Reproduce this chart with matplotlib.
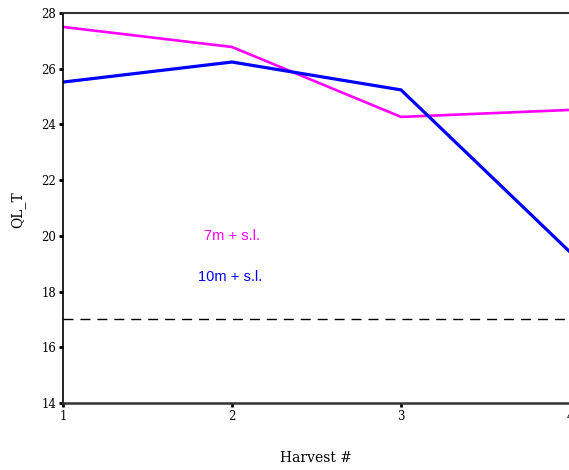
import matplotlib
matplotlib.use("Agg")
import matplotlib.pyplot as plt

harvest = [1, 2, 3, 4]
ql_7m = [27.5, 26.78, 24.27, 24.52]
ql_10m = [25.52, 26.24, 25.24, 19.42]
threshold = 17
xticks = [1, 2, 3, 4]
yticks = [14, 16, 18, 20, 22, 24, 26, 28]

fig = plt.figure(figsize=(5.69, 4.70), dpi=100)
ax = fig.add_axes([63/569, (470-403)/470, (570-63)/569, (403-13)/470])

ax.plot(harvest, ql_7m, color='#ff00ff', lw=1.9, solid_joinstyle='miter')
ax.plot(harvest, ql_10m, color='#0000ff', lw=2.3, solid_joinstyle='miter')
ax.axhline(threshold, color='black', lw=1.0, dashes=(7.2, 5.0))

ax.text(2.0, 20.0, '7m + s.l.', color='#ff00ff', fontsize=10.5,
        family='Liberation Sans', ha='center', va='center')
ax.text(1.99, 18.52, '10m + s.l.', color='#0000ff', fontsize=10.5,
        family='Liberation Sans', ha='center', va='center')

ax.set_xlim(1, 4)
ax.set_ylim(14, 28)
ax.set_xticks(xticks)
ax.set_yticks(yticks)
for lab in ax.get_xticklabels() + ax.get_yticklabels():
    lab.set_family('DejaVu Serif')
    lab.set_fontsize(8.5)
ax.tick_params(direction='out', length=3, width=2, pad=2)

ax.spines['right'].set_visible(False)
ax.spines['left'].set_linewidth(1.2)
ax.spines['bottom'].set_linewidth(1.8)
ax.spines['top'].set_linewidth(1.5)
ax.spines['top'].set_color('#333333')
ax.spines['bottom'].set_color('#333333')

fig.text(18/569, 1 - 210/470, 'QL_T', rotation=90, ha='center', va='center',
         family='DejaVu Serif', fontsize=10)
fig.text(316/569, 1 - 458/470, 'Harvest #', ha='center', va='center',
         family='DejaVu Serif', fontsize=10)

fig.savefig('out.png', dpi=100)
